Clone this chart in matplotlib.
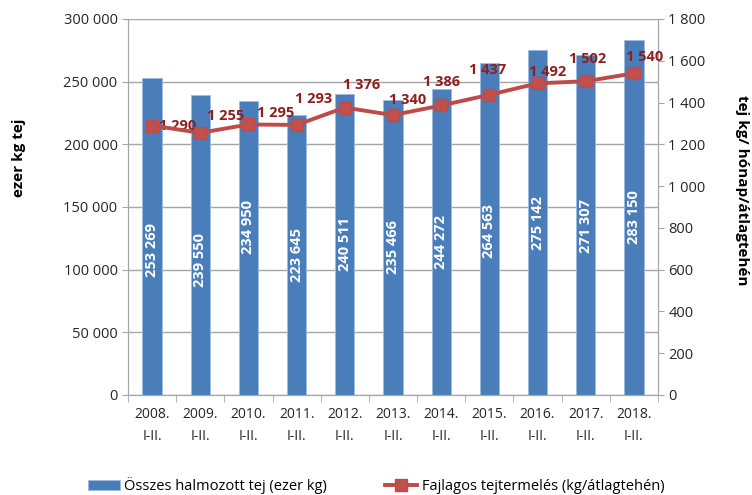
import matplotlib
matplotlib.use("Agg")
import matplotlib.pyplot as plt
import numpy as np

plt.rcParams["font.family"] = ["Open Sans", "DejaVu Sans"]

years = ["2008.", "2009.", "2010.", "2011.", "2012.", "2013.", "2014.",
         "2015.", "2016.", "2017.", "2018."]
period = "I-II."
total_milk = [253269, 239550, 234950, 223645, 240511, 235466, 244272,
              264563, 275142, 271307, 283150]
per_cow = [1290, 1255, 1295, 1293, 1376, 1340, 1386, 1437, 1492, 1502, 1540]

# label offsets in points: bar labels (dy from bar middle), line labels (dx, dy)
bar_label_dy = [-10, -11, 15, 0, 0, 0, 0, -1, 0, -1, 0]
label_offsets = [(5, 0), (5, 12), (6, 8), (-1, 19), (-1, 16), (-3, 11),
                 (-13, 17), (-15, 18), (-6, 8), (-12, 16), (-6, 12)]

BAR = "#4A7EBB"
LINE = "#BE4B48"
LBL = "#8E1F1F"
GRID = "#A6A6A6"
TXT = "#262626"


def fmt(v):
    return f"{v:,}".replace(",", " ")


fig = plt.figure(figsize=(7.52, 4.95), dpi=100)
fig.subplots_adjust(left=128 / 752, right=658 / 752, top=1 - 19 / 495,
                    bottom=1 - 395 / 495)
ax = fig.add_subplot(111)
x = np.arange(len(years))

ax.bar(x, total_milk, width=0.4, color=BAR, edgecolor="#9DBBE0",
       linewidth=0.6, zorder=2, label="Összes halmozott tej (ezer kg)")
for xi, v, dy in zip(x, total_milk, bar_label_dy):
    ax.annotate(fmt(v), (xi, v / 2), xytext=(0, dy),
                textcoords="offset points", rotation=90, ha="center",
                va="center", color="white", fontsize=10.5, fontweight="bold",
                zorder=3)

ax.set_ylim(0, 300000)
ax.set_xlim(-0.5, len(years) - 0.5)
ax.set_yticks(np.arange(0, 300001, 50000))
ax.set_yticklabels([fmt(v) for v in range(0, 300001, 50000)])
ax.yaxis.grid(True, color=GRID, linewidth=1, zorder=0)
ax.set_axisbelow(True)
ax.set_xticks(x)
ax.set_xticklabels([f"{y}\n{period}" for y in years], linespacing=1.6)
ax.set_xticks(np.arange(-0.5, len(years)), minor=True)
ax.tick_params(axis="x", which="major", length=0, pad=9, labelsize=10,
               colors=TXT)
ax.tick_params(axis="x", which="minor", length=5, color=GRID)
ax.tick_params(axis="y", length=4, color=GRID, labelsize=10.5, colors=TXT)
for s in ["left", "bottom", "right"]:
    ax.spines[s].set_color(GRID)
ax.spines["top"].set_visible(False)
ax.set_ylabel("ezer kg tej", fontsize=11, fontweight="bold", va="center")
ax.yaxis.set_label_coords(-0.206, 0.63)

ax2 = ax.twinx()
ax2.plot(x, per_cow, color=LINE, linewidth=2.8, marker="s", markersize=9,
         markerfacecolor="#C0504D", markeredgecolor=LINE, zorder=4,
         label="Fajlagos tejtermelés (kg/átlagtehén)")
for xi, v, off in zip(x, per_cow, label_offsets):
    ax2.annotate(fmt(v), (xi, v), xytext=off, textcoords="offset points",
                 ha="left", va="center", color=LBL, fontsize=10.5,
                 fontweight="bold")
ax2.set_ylim(0, 1800)
ax2.set_yticks(np.arange(0, 1801, 200))
ax2.set_yticklabels([fmt(v) for v in range(0, 1801, 200)])
ax2.tick_params(axis="y", length=4, color=GRID, labelsize=10.5, colors=TXT)
for s in ["left", "bottom", "right"]:
    ax2.spines[s].set_color(GRID)
ax2.spines["top"].set_visible(False)
ax2.set_ylabel("tej kg/ hónap/átlagtehén", fontsize=11, fontweight="bold",
               rotation=270, va="center")
ax2.yaxis.set_label_coords(1.158, 0.545)

h1, l1 = ax.get_legend_handles_labels()
h2, l2 = ax2.get_legend_handles_labels()
fig.legend(h1 + h2, l1 + l2, loc="lower center", ncol=2, frameon=False,
           fontsize=10.5, bbox_to_anchor=(0.5, -0.025), columnspacing=4.0,
           handlelength=2.2, handletextpad=0.3)

fig.savefig("out.png", dpi=100)
